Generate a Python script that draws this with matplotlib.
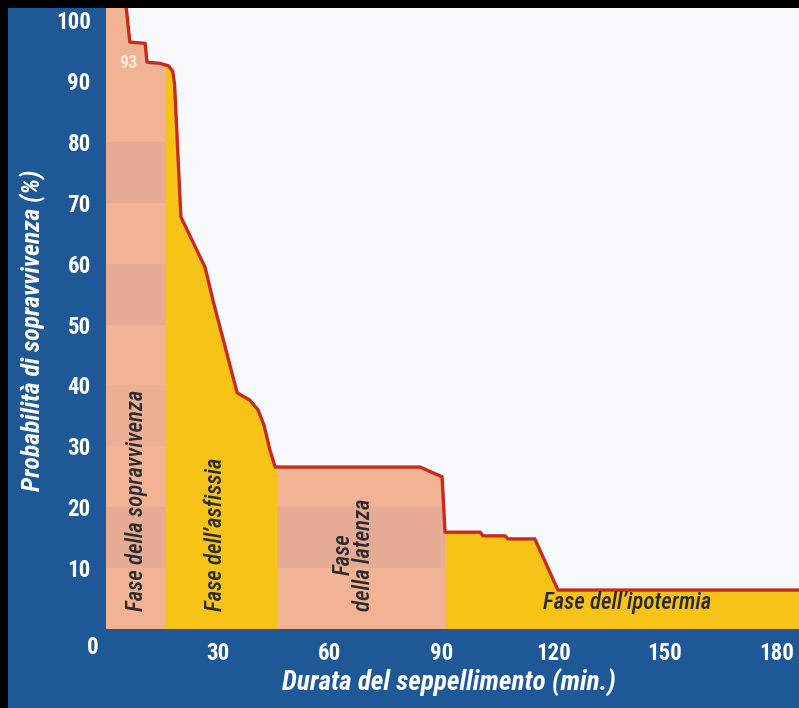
import matplotlib
matplotlib.use("Agg")
import matplotlib.pyplot as plt
from matplotlib.patches import Rectangle

# curva di sopravvivenza (minuti, %)
minuti = [5.1, 6.4, 10.5, 11.0, 14.5, 16.8, 17.9, 18.4, 20.1, 26.6, 28.7, 35.2, 38.6,
          40.8, 42.4, 44.0, 45.4, 84.3, 90.2, 91.0, 100.4, 101.2, 107.1, 107.9, 115.1,
          121.3, 186.0]
sopravvivenza = [104, 96.4, 96.2, 93.1, 92.9, 92.5, 91.6, 89.5, 67.7, 59.4, 54.0, 38.8,
                 37.6, 36.0, 33.5, 29.4, 26.6, 26.6, 25.0, 15.9, 15.9, 15.3, 15.3, 14.8,
                 14.8, 6.4, 6.4]

# fasi (inizio, fine, colore)
fasi_inizio = [0, 16, 46, 91]
fasi_fine = [16, 46, 91, 186]
fasi_colore = ["salmone", "giallo", "salmone", "giallo"]

x_ticks = [30, 60, 90, 120, 150, 180]
y_ticks = [10, 20, 30, 40, 50, 60, 70, 80, 90, 100]

BLU = "#1f5896"
SALMONE = "#f1b394"
SALMONE_SCURO = "#e2a994"
GIALLO = "#f7c316"
SFONDO = "#f7f9fb"
ROSSO = "#c92a1c"

num_font = ["Roboto Condensed", "Roboto", "DejaVu Sans"]

fig = plt.figure(figsize=(7.99, 7.08), dpi=100, facecolor="black")
fig.patches.append(Rectangle((8 / 799, 0), 1, 700 / 708, transform=fig.transFigure,
                             facecolor=BLU, edgecolor="none", zorder=-5))

ax = fig.add_axes([106 / 799, (708 - 629) / 708, 693 / 799, 621 / 708])
ax.set_zorder(1)
ax.set_facecolor(SFONDO)
ax.set_xlim(0, 186)
ax.set_ylim(0, 102)

for a, b, c in zip(fasi_inizio, fasi_fine, fasi_colore):
    ax.axvspan(a, b, color=SALMONE if c == "salmone" else GIALLO, lw=0, zorder=1)
    if c == "salmone":
        # strisce orizzontali più scure (retino)
        for y0 in (10, 30, 50, 70):
            ax.add_patch(Rectangle((a, y0), b - a, 10, facecolor=SALMONE_SCURO,
                                   edgecolor="none", alpha=0.8 if y0 != 30 else 0.4, zorder=1.5))

# zona sopra la curva
ax.fill_between(minuti, sopravvivenza, 110, color=SFONDO, lw=0, zorder=2)
ax.plot(minuti, sopravvivenza, color=ROSSO, lw=2.4, solid_joinstyle="round", zorder=3)

for s in ax.spines.values():
    s.set_visible(False)

ax.set_xticks(x_ticks)
ax.set_xticklabels([str(v) for v in x_ticks])
ax.set_yticks(y_ticks)
ax.set_yticklabels([str(v) for v in y_ticks])
ax.tick_params(length=0, colors="white", labelsize=16.5)
ax.tick_params(axis="x", pad=9)
ax.tick_params(axis="y", pad=11)
for lab in ax.get_xticklabels() + ax.get_yticklabels():
    lab.set_family(num_font)
    lab.set_fontweight("heavy")

fig.text(93 / 799, 1 - 648 / 708, "0", color="white", fontsize=16.5, fontweight="heavy",
         family=num_font, ha="center", va="center")

fig.text(33 / 799, 1 - 330 / 708, "Probabilità di sopravvivenza (%)", color="white",
         fontsize=18.5, fontweight="bold", fontstyle="italic", family=num_font,
         rotation=90, ha="center", va="center")
fig.text(449 / 799, 1 - 683 / 708, "Durata del seppellimento (min.)", color="white",
         fontsize=19.5, fontweight="bold", fontstyle="italic", family=num_font,
         ha="center", va="center")

ax.text(3.6, 93.0, "93", color="#f6e8de", fontsize=13, fontweight="bold",
        family=num_font, ha="left", va="center", zorder=4)

testo = dict(color="#2b2a2e", fontsize=16.5, fontstyle="italic", fontweight="medium",
             family=num_font, zorder=4)
ax.text(8.2, 3, "Fase della sopravvivenza", rotation=90, ha="center", va="bottom", **testo)
ax.text(29.3, 3, "Fase dell’asfissia", rotation=90, ha="center", va="bottom", **testo)
ax.text(66.5, 3, "Fase\ndella latenza", rotation=90, ha="center", va="bottom",
        linespacing=0.85, **testo)
ax.text(140, 2.5, "Fase dell’ipotermia", ha="center", va="bottom", **testo)

fig.savefig("out.png", dpi=100, facecolor="black")
